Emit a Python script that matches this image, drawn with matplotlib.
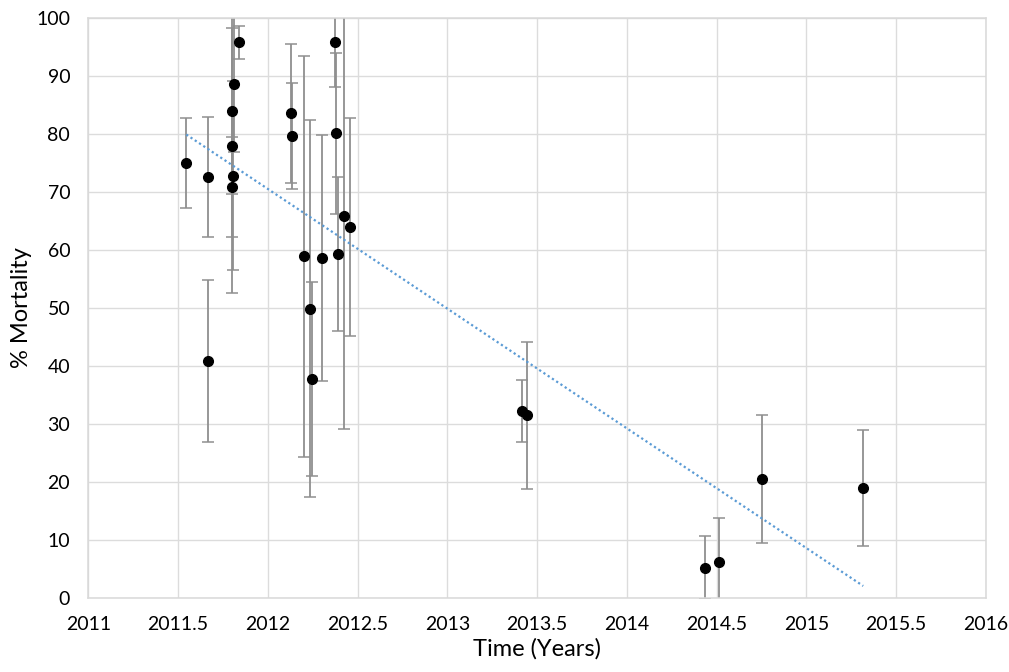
import numpy as np
import matplotlib
matplotlib.use('Agg')
from matplotlib import pyplot as plt

plt.rcParams['font.family'] = ['Lato', 'DejaVu Sans']

# sampling time (decimal years), % mortality and its error
years = [2011.546, 2011.665, 2011.665, 2011.81, 2011.80, 2011.80, 2011.806,
         2011.80, 2011.837, 2012.129, 2012.136, 2012.199, 2012.234, 2012.247,
         2012.303, 2012.377, 2012.381, 2012.39, 2012.424, 2012.459,
         2013.414, 2013.443, 2014.438, 2014.513, 2014.751, 2015.317]
mortality = [75.0, 72.6, 40.9, 88.6, 84.0, 77.9, 72.8,
             70.9, 95.8, 83.6, 79.7, 58.9, 49.9, 37.7,
             58.6, 95.9, 80.1, 59.3, 65.9, 63.9,
             32.3, 31.5, 5.2, 6.2, 20.5, 18.9]
err = [7.7, 10.3, 14.0, 11.7, 14.3, 25.4, 16.3,
       8.6, 2.9, 12.0, 9.1, 34.6, 32.6, 16.7,
       21.2, 7.7, 13.9, 13.3, 36.7, 18.8,
       5.35, 12.7, 5.4, 7.55, 11.0, 10.05]

x_ticks = [2011, 2011.5, 2012, 2012.5, 2013, 2013.5, 2014, 2014.5, 2015, 2015.5, 2016]
y_ticks = list(range(0, 101, 10))

x = np.array(years)
y = np.array(mortality)

fig = plt.figure(figsize=(10.09, 6.72), dpi=100)
ax = fig.add_axes([0.0875, 0.1105, 0.8895, 0.8625])

ax.errorbar(x, y, yerr=err, fmt='none', ecolor='#8f8f8f', elinewidth=1.3,
            capsize=4.5, capthick=1.1, zorder=2)
ax.plot(x, y, 'o', color='black', markersize=7, zorder=3)

# linear trendline over the data range
k, b = np.polyfit(x, y, 1)
xt = np.array([x.min(), x.max()])
ax.plot(xt, k * xt + b, color='#5b9bd5', lw=1.6, linestyle=(0, (1, 1.3)), zorder=4)

ax.set_xlim(2011, 2016)
ax.set_ylim(0, 100)
ax.set_xticks(x_ticks)
ax.set_xticklabels([f'{t:g}' for t in x_ticks])
ax.set_yticks(y_ticks)
ax.grid(True, color='#dcdcdc', lw=1.0)
ax.set_axisbelow(True)
for s in ax.spines.values():
    s.set_color('#d9d9d9')
    s.set_linewidth(1.1)
ax.tick_params(length=0, labelsize=14, pad=13, colors='black')

ax.set_xlabel('Time (Years)', fontsize=17, labelpad=4)
ax.set_ylabel('% Mortality', fontsize=17, labelpad=3)

fig.savefig('out.png', dpi=100)
